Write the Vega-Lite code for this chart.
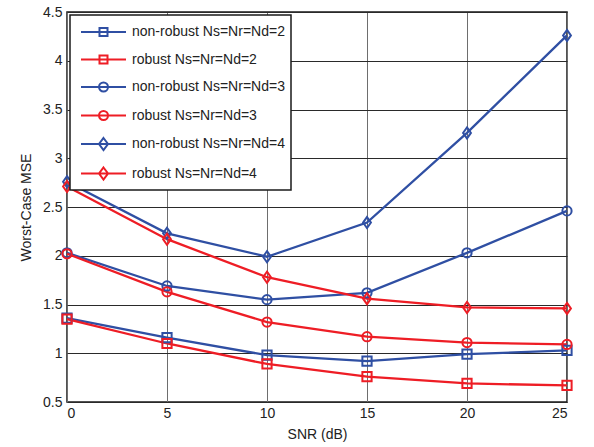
{
  "$schema": "https://vega.github.io/schema/vega-lite/v6.json",
  "autosize": {"type": "none"},
  "padding": {"left": 67, "top": 12, "right": 27, "bottom": 45},
  "width": 500,
  "height": 390,
  "background": "white",
  "config": {
    "font": "Liberation Sans",
    "view": {"stroke": "#1a1a1a", "strokeWidth": 1.5},
    "axis": {
      "labelFont": "Liberation Sans",
      "labelFontSize": 14,
      "labelColor": "#222222",
      "titleFont": "Liberation Sans",
      "titleFontSize": 14,
      "titleFontWeight": "normal",
      "titleColor": "#222222",
      "domain": false,
      "ticks": false,
      "grid": true,
      "gridOpacity": 1,
      "gridWidth": 1
    },
    "legend": {
      "strokeColor": "#1a1a1a",
      "fillColor": "white",
      "strokeWidth": 1.5,
      "cornerRadius": 0,
      "padding": 6,
      "offset": 3,
      "rowPadding": 8.5,
      "symbolSize": 400,
      "symbolStrokeWidth": 2,
      "symbolFillColor": "transparent",
      "labelOffset": 34,
      "labelFont": "Liberation Sans",
      "labelFontSize": 14,
      "labelColor": "#222222",
      "labelLimit": 300
    }
  },
  "data": {
    "values": [
      {"snr": 0, "mse": 1.36, "series": "non-robust Ns=Nr=Nd=2"},
      {"snr": 5, "mse": 1.16, "series": "non-robust Ns=Nr=Nd=2"},
      {"snr": 10, "mse": 0.98, "series": "non-robust Ns=Nr=Nd=2"},
      {"snr": 15, "mse": 0.92, "series": "non-robust Ns=Nr=Nd=2"},
      {"snr": 20, "mse": 0.99, "series": "non-robust Ns=Nr=Nd=2"},
      {"snr": 25, "mse": 1.03, "series": "non-robust Ns=Nr=Nd=2"},
      {"snr": 0, "mse": 1.35, "series": "robust Ns=Nr=Nd=2"},
      {"snr": 5, "mse": 1.10, "series": "robust Ns=Nr=Nd=2"},
      {"snr": 10, "mse": 0.89, "series": "robust Ns=Nr=Nd=2"},
      {"snr": 15, "mse": 0.76, "series": "robust Ns=Nr=Nd=2"},
      {"snr": 20, "mse": 0.69, "series": "robust Ns=Nr=Nd=2"},
      {"snr": 25, "mse": 0.67, "series": "robust Ns=Nr=Nd=2"},
      {"snr": 0, "mse": 2.03, "series": "non-robust Ns=Nr=Nd=3"},
      {"snr": 5, "mse": 1.69, "series": "non-robust Ns=Nr=Nd=3"},
      {"snr": 10, "mse": 1.55, "series": "non-robust Ns=Nr=Nd=3"},
      {"snr": 15, "mse": 1.62, "series": "non-robust Ns=Nr=Nd=3"},
      {"snr": 20, "mse": 2.03, "series": "non-robust Ns=Nr=Nd=3"},
      {"snr": 25, "mse": 2.46, "series": "non-robust Ns=Nr=Nd=3"},
      {"snr": 0, "mse": 2.02, "series": "robust Ns=Nr=Nd=3"},
      {"snr": 5, "mse": 1.63, "series": "robust Ns=Nr=Nd=3"},
      {"snr": 10, "mse": 1.32, "series": "robust Ns=Nr=Nd=3"},
      {"snr": 15, "mse": 1.17, "series": "robust Ns=Nr=Nd=3"},
      {"snr": 20, "mse": 1.11, "series": "robust Ns=Nr=Nd=3"},
      {"snr": 25, "mse": 1.09, "series": "robust Ns=Nr=Nd=3"},
      {"snr": 0, "mse": 2.76, "series": "non-robust Ns=Nr=Nd=4"},
      {"snr": 5, "mse": 2.23, "series": "non-robust Ns=Nr=Nd=4"},
      {"snr": 10, "mse": 1.99, "series": "non-robust Ns=Nr=Nd=4"},
      {"snr": 15, "mse": 2.34, "series": "non-robust Ns=Nr=Nd=4"},
      {"snr": 20, "mse": 3.26, "series": "non-robust Ns=Nr=Nd=4"},
      {"snr": 25, "mse": 4.26, "series": "non-robust Ns=Nr=Nd=4"},
      {"snr": 0, "mse": 2.71, "series": "robust Ns=Nr=Nd=4"},
      {"snr": 5, "mse": 2.17, "series": "robust Ns=Nr=Nd=4"},
      {"snr": 10, "mse": 1.78, "series": "robust Ns=Nr=Nd=4"},
      {"snr": 15, "mse": 1.56, "series": "robust Ns=Nr=Nd=4"},
      {"snr": 20, "mse": 1.47, "series": "robust Ns=Nr=Nd=4"},
      {"snr": 25, "mse": 1.46, "series": "robust Ns=Nr=Nd=4"}
    ]
  },
  "encoding": {
    "x": {
      "field": "snr",
      "type": "quantitative",
      "title": "SNR (dB)",
      "scale": {"domain": [0, 25], "nice": false, "zero": false},
      "axis": {"values": [0, 5, 10, 15, 20, 25], "labelPadding": 4, "titlePadding": 7, "gridColor": "#6e6e6e"}
    },
    "y": {
      "field": "mse",
      "type": "quantitative",
      "title": "Worst-Case MSE",
      "scale": {"domain": [0.5, 4.5], "nice": false, "zero": false},
      "axis": {"values": [0.5, 1, 1.5, 2, 2.5, 3, 3.5, 4, 4.5], "format": "~g", "labelPadding": 5, "titlePadding": 9, "gridColor": "#2a2a2a"}
    },
    "color": {
      "field": "series",
      "type": "nominal",
      "scale": {
        "domain": ["non-robust Ns=Nr=Nd=2", "robust Ns=Nr=Nd=2", "non-robust Ns=Nr=Nd=3", "robust Ns=Nr=Nd=3", "non-robust Ns=Nr=Nd=4", "robust Ns=Nr=Nd=4"],
        "range": ["#2f4fa3", "#ee1d25", "#2f4fa3", "#ee1d25", "#2f4fa3", "#ee1d25"]
      },
      "legend": null
    }
  },
  "resolve": {
    "scale": {"shape": "independent"},
    "legend": {"color": "independent", "shape": "independent"}
  },
  "layer": [
    {
      "mark": {"type": "line", "strokeWidth": 2.3}
    },
    {
      "mark": {"type": "point", "filled": false, "strokeWidth": 2, "size": 85, "opacity": 1},
      "encoding": {
        "shape": {
          "field": "series",
          "type": "nominal",
          "legend": null,
          "scale": {
            "domain": ["non-robust Ns=Nr=Nd=2", "robust Ns=Nr=Nd=2", "non-robust Ns=Nr=Nd=3", "robust Ns=Nr=Nd=3", "non-robust Ns=Nr=Nd=4", "robust Ns=Nr=Nd=4"],
            "range": ["square", "square", "circle", "circle", "M0,-1.2L0.85,0L0,1.2L-0.85,0Z", "M0,-1.2L0.85,0L0,1.2L-0.85,0Z"]
          }
        }
      }
    },
    {
      "transform": [{"filter": "datum.snr > 100"}],
      "mark": {"type": "point", "filled": false, "strokeWidth": 2, "opacity": 1},
      "encoding": {
        "color": {
          "field": "series",
          "type": "nominal",
          "legend": {"title": null, "orient": "top-left"}
        },
        "shape": {
          "field": "series",
          "type": "nominal",
          "legend": {"title": null, "orient": "top-left"},
          "scale": {
            "domain": ["non-robust Ns=Nr=Nd=2", "robust Ns=Nr=Nd=2", "non-robust Ns=Nr=Nd=3", "robust Ns=Nr=Nd=3", "non-robust Ns=Nr=Nd=4", "robust Ns=Nr=Nd=4"],
            "range": [
              "M-0.6,0H3.9M1.25,-0.4H2.05V0.4H1.25Z",
              "M-0.6,0H3.9M1.25,-0.4H2.05V0.4H1.25Z",
              "M-0.6,0H3.9M2.1,0A0.45,0.45 0 1 1 1.2,0A0.45,0.45 0 1 1 2.1,0Z",
              "M-0.6,0H3.9M2.1,0A0.45,0.45 0 1 1 1.2,0A0.45,0.45 0 1 1 2.1,0Z",
              "M-0.6,0H3.9M1.65,-0.6L2.1,0L1.65,0.6L1.2,0Z",
              "M-0.6,0H3.9M1.65,-0.6L2.1,0L1.65,0.6L1.2,0Z"
            ]
          }
        }
      }
    }
  ]
}
